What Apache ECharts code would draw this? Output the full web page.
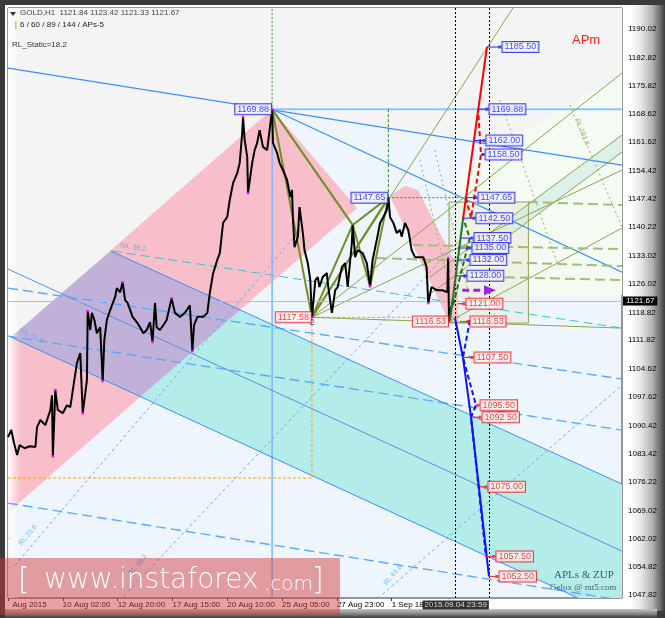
<!DOCTYPE html>
<html><head><meta charset="utf-8">
<script src="https://cdn.jsdelivr.net/npm/echarts@6/dist/echarts.min.js"></script>
<style>
html,body{margin:0;padding:0;background:#3a3a3a;}
#wrap{position:relative;width:665px;height:618px;overflow:hidden;background:#3a3a3a;}
#inner{position:absolute;left:5px;top:5px;width:660px;height:606px;background:linear-gradient(to right,#ffffff 0px,#ffffff 626px,#e6e6e6 636px,#b4b4b4 647px,#6e6e6e 655px,#3a3a3a 660px);}
#bot{position:absolute;left:5px;top:609px;width:652px;height:9px;background:linear-gradient(to bottom,#c4c4c4,#8a8a8a 50%,#3a3a3a);}
#chart{position:absolute;left:0;top:0;width:665px;height:618px;}
</style></head><body><div id="wrap"><div id="inner"></div><div id="bot"></div><div id="chart"></div></div>
<script>
// ---------- axes ----------
const xTickBars = [0,66,132,198,264,330,396,462];
const xTickLabels = ['  Aug 2015','10 Aug 02:00','12 Aug 20:00','17 Aug 15:00','20 Aug 10:00','25 Aug 05:00','27 Aug 23:00','1 Sep 18:00'];
const yTickValues = [1190.02,1182.82,1175.82,1168.62,1161.62,1154.42,1147.42,1140.22,1133.02,1126.02,1118.82,1111.82,1104.62,1097.62,1090.42,1083.42,1076.22,1069.02,1062.02,1054.82,1047.82];

// ---------- price (bar index, price) ----------
const priceBars = [0,4,7,11,14,20,26,33,35,39,45,51,53,54,57,60,66,71,75,79,83,87,90,95,96,99,101,104,107,111,114,116,119,123,129,131,135,138,141,144,150,155,159,163,167,171,174,177,179,183,188,191,197,201,207,213,219,222,224,228,235,240,243,247,252,255,259,264,267,271,276,279,282,283,285,288,289,294,297,300,303,307,312,315,318,319,324,327,331,336,340,342,343,345,349,351,355,357,361,364,365,366,370,373,375,379,384,385,390,394,397,402,406,409,414,415,418,421,427,432,436,439,444,448,452,456,458,460,464,468,472,474,478,482,486,490,496,500,504,506,510,516,523,529,530,531,533,536,539];
const priceValues = [1087.5,1089.3,1086.2,1083.0,1085.5,1084.7,1085.2,1085.0,1090.0,1091.8,1090.5,1094.3,1098.0,1082.7,1099.3,1094.3,1093.5,1095.5,1095.0,1100.6,1106.1,1108.6,1093.5,1101.8,1119.2,1114.4,1118.7,1116.9,1113.6,1115.1,1101.6,1111.9,1116.9,1119.4,1122.7,1124.9,1123.9,1126.4,1121.9,1121.2,1117.7,1116.4,1115.1,1113.6,1114.4,1116.4,1111.4,1121.2,1115.1,1114.4,1115.9,1116.9,1122.4,1118.7,1117.7,1118.7,1120.6,1109.1,1115.6,1117.7,1117.7,1118.7,1123.7,1128.7,1132.0,1133.7,1141.3,1142.8,1147.1,1151.3,1153.8,1156.4,1163.9,1167.9,1162.1,1157.9,1148.8,1156.4,1159.6,1161.4,1164.6,1160.4,1159.6,1164.6,1169.88,1161.4,1158.9,1156.4,1154.6,1152.1,1147.8,1149.6,1142.8,1135.2,1137.8,1145.3,1138.8,1134.5,1131.2,1126.9,1121.9,1117.58,1126.9,1127.7,1125.2,1127.7,1128.7,1126.2,1118.7,1124.4,1125.2,1130.2,1131.2,1125.2,1136.2,1140.8,1132.7,1134.5,1133.7,1131.2,1125.4,1132.0,1137.0,1141.3,1142.8,1144.5,1147.65,1142.8,1141.3,1138.8,1139.5,1137.8,1141.3,1139.5,1134.5,1132.7,1132.7,1132.7,1130.2,1121.2,1125.2,1124.4,1124.4,1123.9,1132.5,1116.53,1119.4,1121.9,1121.67];
const lastPrice = 1121.67;
const fractalPoints = [[54,1082.7],[57,1099.3],[90,1093.5],[96,1119.2],[114,1101.6],[138,1126.4],[174,1111.4],[197,1122.4],[222,1109.1],[283,1167.9],[289,1148.8],[318,1169.88],[366,1117.58],[436,1125.4],[506,1121.2],[530,1132.5],[531,1116.53]];

// pattern pivots X, A, B, C, D
const patX = [318,1169.88], patA = [366,1117.58], patB = [415,1140.8], patC = [436,1125.4], patD = [458,1147.65];

// ---------- zones ----------
const zoneGray = [[0,1196],[740,1196],[740,1178.96],[592.4,1160.62],[318,1169.88],[0,1111.87]];
const zoneGreen = [[592.4,1160.62],[740,1178.96],[740,1123.17],[544.2,1123.17],[544.2,1154.59]];
const zonePink = [[0,1111.87],[318,1169.88],[420.2,1145.04],[0,1068.6]];
const zoneTeal = [[124,1134.23],[740,1075.5],[740,1041.9],[3.6,1112.62]];
const zonePurple = [[124,1134.23],[280.2,1119.58],[159.3,1097.62],[3.6,1112.62]];
const zoneSmallPink = [[459.9,1148.05],[478,1150.57],[493.6,1149.56],[541.8,1129.96],[541.8,1116.39],[531,1116.39]];
const zoneGreenBand = [[568.3,1137.0],[739.3,1163.38],[739.3,1159.11],[568.3,1132.72]];
const zoneBox = [[531,1146.55],[626.6,1146.55],[626.6,1116.15],[531,1116.15],[531,1146.55]];
const zoneLeftFade = [[0,1196],[14.4,1196],[14.4,1046],[0,1046]];

// ---------- channel / trend lines ----------
const blueLong = [[0,1180.22],[739.3,1155.84]];
const bluePeakSteep = [[318,1169.88],[739.3,1128.95]];
const blueH1169 = [[318,1169.88],[739.3,1169.88]];
const blueV318 = [[318,1169.88],[318,1047.07]];
const tealUpper = [[124,1134.23],[739.3,1075.68]];
const tealMid = [[0,1129.71],[739.3,1058.84]];
const tealLower = [[3.6,1112.62],[739.3,1041.99]];
const dashL1 = [[0,1124.93],[739.3,1102.07]];
const dashL2 = [[0,1112.87],[739.3,1089.25]];
const dashL3 = [[0,1070.9],[739.3,1046.5]];
const dashISL38 = [[126.4,1134.23],[739.3,1114.88]];
const rl236 = [[8.4,1055.3],[351.6,1139.5]];
const rl382 = [[134.8,1046.5],[544.2,1137.0]];
const rl618 = [[445.5,1047.0],[739.3,1100.56]];
const orangeLevel = [[0,1077.2],[366,1077.2],[366,1117.58],[544.2,1117.58]];
const greenVX = [[318,1196],[318,1169.88]];
const greenVD = [[458,1169.88],[458,1147.65]];
const greenHD = [[458,1147.65],[544.2,1147.65]];
const fanF1 = [patA,[608,1195.3]];
const fanG1 = [patA,[739.3,1178.96]];
const fanG4 = [patA,[739.3,1154.59]];
const fanFlat = [patA,[739.3,1114.88]];
const chanG2 = [[508.1,1127.7],[739.3,1163.38]];
const chanG3 = [[508.1,1123.43],[739.3,1159.11]];
const chanG5 = [[531,1116.53],[739.3,1140.01]];
const levelH1 = [[487.6,1135.74],[739.3,1134.73]];
const levelH2 = [[444.3,1132.47],[739.3,1130.46]];
const levelH3 = [[544.2,1127.95],[739.3,1126.94]];
const levelH4 = [[626.1,1146.55],[739.3,1145.79]];
const dotD1 = [[676.6,1170.92],[739.3,1140.26]];
const dotD2 = [[592.4,1172.18],[661,1131.47]];
const dotD3 = [[496,1157.1],[532.2,1124.43]];
const dotD4 = [[514,1159.6],[556.2,1121.92]];

// ---------- projections ----------
const projGreenSolid = [[532.2,1116.9],[548,1142.5]];
const projGreenDash = [[536,1120.7],[556,1137.5],[548,1142.5]];
const projRedSolid = [[548,1142.5],[576.7,1185.5]];
const projRedDash = [[551.4,1147.65],[557.5,1142.5],[569.5,1158.5],[566,1169.88]];
const projBlueSolid = [[538.2,1117.4],[547.8,1107.5],[557.5,1092.5],[579.1,1052.5]];
const projBlueDash = [[556.2,1116.9],[547.8,1107.5],[563.5,1095.5],[557.5,1092.5],[575.5,1057.5]];
const arrowLine = [[547,1124.4],[584,1124.4]];
// targets: [price, bar on projection, bar of label]
const upTargets = [[1185.50,576.7,592.4],[1169.88,565.9,576.7],[1162.00,561,573],[1158.50,569.5,572],[1147.65,551.4,563.5],[1142.50,547.8,561],[1137.50,545.4,558.7],[1135.00,543,556.2],[1132.00,541.8,553.8],[1128.00,539.4,550.2]];
const downTargets = [[1121.00,541.8,549],[1116.53,544.2,553.8],[1107.50,547.8,558.7],[1095.50,562.3,566],[1092.50,557.5,568.3],[1075.00,568.3,575.5],[1057.50,575.5,585.1],[1052.50,579.1,588.8]];
const pivotLabelsBlue = [patX, patD];
const pivotLabelsRed = [patA, [531,1116.53]];
const nowBar = 538, endBar = 579;
const endTimeText = '2015.09.04 23:59';
// fib captions: [bar, price, text]
const fibCaptions = [[128.8,1135.74,'ISL 38.2'],[8.4,1114.4,'ISL 61.8'],[8.4,1060.5,'RL 23.6'],[140.8,1053.0,'RL 38.2'],[448,1050.5,'RL 61.8']];
const fibCaptionsOlive = [[679,1167.5,'RL 161.8']];

// ---------- build ----------
const F = 'Liberation Sans';
function shapes(items, z) {
  return {
    type:'custom', z:z, clip:true, silent:true, animation:false,
    data: items.map((_, i) => [i, 1100]),
    renderItem: (params, api) => {
      const it = items[params.dataIndex];
      const pts = it.pts.map(p => api.coord(p));
      if (it.fill) return {type:'polygon', shape:{points:pts}, style:{fill:it.fill, stroke:it.stroke || null, lineWidth:it.lw || 0}};
      const line = {type:'polyline', shape:{points:pts}, style:{fill:null, stroke:it.stroke, lineWidth:it.lw || 1, lineDash:it.dash || null}};
      if (!it.arrow) return line;
      const e = pts[pts.length - 1], s = pts[pts.length - 2];
      const a = Math.atan2(e[1] - s[1], e[0] - s[0]), L = 9, W = 5;
      const head = [[e[0] + Math.cos(a) * 3, e[1] + Math.sin(a) * 3],
        [e[0] - Math.cos(a) * L - Math.sin(a) * W, e[1] - Math.sin(a) * L + Math.cos(a) * W],
        [e[0] - Math.cos(a) * L + Math.sin(a) * W, e[1] - Math.sin(a) * L - Math.cos(a) * W]];
      return {type:'group', children:[line, {type:'polygon', shape:{points:head}, style:{fill:it.stroke}}]};
    }
  };
}
const OL = '#8aa64a';
const zoneItems = [
  {pts:zoneGray, fill:'#f4f4f4'},
  {pts:zoneGreen, fill:'#f3fbf2'},
  {pts:zonePink, fill:'#f8bfcb'},
  {pts:zoneTeal, fill:'#b3ece8'},
  {pts:zonePurple, fill:'#c1b1d8'},
  {pts:zoneGreenBand, fill:'#dcf1ea'},
  {pts:zoneBox, fill:'rgba(225,225,205,0.35)', stroke:'#8fa456', lw:1},
  {pts:zoneSmallPink, fill:'#f8bfcb'},
  {pts:zoneLeftFade, fill:new echarts.graphic.LinearGradient(0,0,1,0,[{offset:0,color:'rgba(255,255,255,0.95)'},{offset:1,color:'rgba(255,255,255,0)'}])}
];
const lineItems = [
  {pts:dashL1, stroke:'#5aaaf8', lw:1.4, dash:[10,5]},
  {pts:dashL2, stroke:'#5aaaf8', lw:1.4, dash:[10,5]},
  {pts:dashL3, stroke:'#5aaaf8', lw:1.4, dash:[10,5]},
  {pts:dashISL38, stroke:'#3cc4d4', lw:1, dash:[9,5]},
  {pts:rl236, stroke:'#66aaf0', lw:1, dash:[3,3]},
  {pts:rl382, stroke:'#66aaf0', lw:1, dash:[3,3]},
  {pts:rl618, stroke:'#66aaf0', lw:1, dash:[3,3]},
  {pts:blueLong, stroke:'#3d8ff5', lw:1.2},
  {pts:bluePeakSteep, stroke:'#3d8ff5', lw:1.2},
  {pts:blueH1169, stroke:'#8cc4ff', lw:2},
  {pts:blueV318, stroke:'#7ab6ff', lw:1.5},
  {pts:tealUpper, stroke:'#3d8ff5', lw:1},
  {pts:tealMid, stroke:'#5b8ee6', lw:1},
  {pts:tealLower, stroke:'#3d8ff5', lw:1},
  {pts:orangeLevel, stroke:'#ffa500', lw:1, dash:[3,2]},
  {pts:greenVX, stroke:'#3a9a3a', lw:1, dash:[2,2]},
  {pts:greenVD, stroke:'#2e8b2e', lw:1, dash:[3,2]},
  {pts:greenHD, stroke:'#2e8b2e', lw:1, dash:[2,2]},
  {pts:fanF1, stroke:OL, lw:1},
  {pts:fanG1, stroke:OL, lw:1},
  {pts:fanG4, stroke:OL, lw:1},
  {pts:fanFlat, stroke:OL, lw:1},
  {pts:chanG2, stroke:OL, lw:1},
  {pts:chanG3, stroke:OL, lw:1},
  {pts:chanG5, stroke:OL, lw:1},
  {pts:levelH1, stroke:'#a9b97c', lw:2, dash:[10,5]},
  {pts:levelH2, stroke:'#a9b97c', lw:2, dash:[10,5]},
  {pts:levelH3, stroke:'#a9b97c', lw:2, dash:[10,5]},
  {pts:levelH4, stroke:'#a9b97c', lw:2, dash:[10,5]},
  {pts:dotD1, stroke:'#9ab060', lw:1, dash:[2,3]},
  {pts:dotD2, stroke:'#9ab060', lw:1, dash:[2,3]},
  {pts:dotD3, stroke:'#9ab060', lw:1, dash:[2,3]},
  {pts:dotD4, stroke:'#9ab060', lw:1, dash:[2,3]}
];
const zigItems = [[patX,patA],[patX,patB],[patA,patB],[patB,patC],[patC,patD],[patB,patD],[patA,patD]].map(s => ({pts:s, stroke:'#6f8f22', lw:2}));
const projItems = [
  {pts:projGreenSolid, stroke:'#1f7a1f', lw:2},
  {pts:projGreenDash, stroke:'#1f7a1f', lw:2, dash:[5,3]},
  {pts:projRedSolid, stroke:'#ff0000', lw:2},
  {pts:projRedDash, stroke:'#ff0000', lw:2, dash:[5,3]},
  {pts:projBlueSolid, stroke:'#1010ff', lw:2},
  {pts:projBlueDash, stroke:'#1010ff', lw:2, dash:[5,3]},
  {pts:arrowLine, stroke:'#a020f0', lw:3, dash:[7,4], arrow:true}
];
upTargets.forEach(t => projItems.push({pts:[[t[1],t[0]],[t[2],t[0]]], stroke:'#2020ff', lw:1}));
downTargets.forEach(t => projItems.push({pts:[[t[1],t[0]],[t[2],t[0]]], stroke:'#ff2020', lw:1}));

function boxLabel(col, bg, pos) {
  return {show:true, position:pos, distance:1, color:col, borderColor:col, borderWidth:1, backgroundColor:bg,
    padding:[1,2,0,2], fontSize:9, fontFamily:F, formatter: p => p.value[1].toFixed(2)};
}
const labelData = [];
upTargets.forEach(t => labelData.push({value:[t[2],t[0]], itemStyle:{color:'#2020ff'}, label:boxLabel('#1818ee','#f4f4ff','right')}));
downTargets.forEach(t => labelData.push({value:[t[2],t[0]], itemStyle:{color:'#ff2020'}, label:boxLabel('#ee1818','#fff2f2','right')}));
pivotLabelsBlue.forEach(p => labelData.push({value:p, symbolSize:0, label:boxLabel('#1818ee','#f4f4ff','left')}));
pivotLabelsRed.forEach(p => labelData.push({value:p, symbolSize:0, label:boxLabel('#ee1818','#fff2f2','left')}));

const option = {
  animation:false,
  backgroundColor:'transparent',
  grid:{left:8, right:43, top:8, bottom:20, show:true, backgroundColor:'#eef5fc', borderColor:'#333', borderWidth:1, outerBoundsMode:'none'},
  xAxis:{type:'value', min:0, max:739.3, axisLine:{show:false}, splitLine:{show:false},
    axisTick:{show:true, customValues:xTickBars, length:3, lineStyle:{color:'#333'}},
    axisLabel:{customValues:xTickBars, formatter:v => { const i = xTickBars.indexOf(v); return i >= 0 ? xTickLabels[i] : ''; },
      align:'left', color:'#000', fontSize:8, fontFamily:F, margin:3}},
  yAxis:{type:'value', position:'right', min:1047.07, max:1195.3, axisLine:{show:false}, splitLine:{show:false},
    axisTick:{show:true, customValues:yTickValues, length:3, lineStyle:{color:'#333'}},
    axisLabel:{customValues:yTickValues, formatter:v => v.toFixed(2), color:'#000', fontSize:8, fontFamily:F, margin:6}},
  series:[
    shapes(zoneItems, 1),
    shapes(lineItems, 3),
    shapes(zigItems, 4),
    {type:'scatter', z:4, silent:true, symbolSize:0, clip:true,
      data:fibCaptions.map(c => ({value:[c[0],c[1]], label:{show:true, position:'right', formatter:c[2], color:'#55aae8', fontSize:7, fontFamily:F,
        rotate: c[2].startsWith('RL') ? 50 : (c[2]==='ISL 38.2' ? -9 : -25)}}))
        .concat(fibCaptionsOlive.map(c => ({value:[c[0],c[1]], label:{show:true, position:'right', formatter:c[2], color:'#8fa456', fontSize:7, fontFamily:F, rotate:-68}})))},
    {type:'line', z:5, silent:true, showSymbol:false, data:priceBars.map((b,i) => [b, priceValues[i]]),
      lineStyle:{color:'#000', width:2},
      markLine:{silent:true, symbol:'none', animation:false, data:[
        {yAxis:lastPrice, lineStyle:{color:'#bdbdbd', type:'solid', width:1},
          label:{show:true, position:'end', distance:1, formatter:lastPrice.toFixed(2), color:'#fff', backgroundColor:'#000', padding:[1,3,0,3], fontSize:8, fontFamily:F}},
        {xAxis:nowBar, lineStyle:{color:'#000', type:[2,2], width:1}, label:{show:false}},
        {xAxis:endBar, lineStyle:{color:'#000', type:[2,2], width:1}, label:{show:false}}
      ]}},
    {type:'scatter', z:6, silent:true, symbolSize:3, itemStyle:{color:'#ff00ff'}, data:fractalPoints},
    {type:'scatter', z:6, silent:true, symbolSize:0, data:[{value:patA, label:{show:true, position:'bottom', distance:1, formatter:'2', color:'#333', fontSize:9, fontFamily:F}}]},
    shapes(projItems, 7),
    {type:'scatter', z:8, silent:true, symbol:'rect', symbolSize:3, clip:false, data:labelData},
    {type:'scatter', z:9, silent:true, symbolSize:0, clip:false,
      data:[{value:[endBar, 1047.07], label:{show:true, position:'left', distance:0, offset:[0,7], formatter:endTimeText, color:'#fff', backgroundColor:'#000', padding:[1,2,0,2], fontSize:8, fontFamily:F}}]}
  ],
  graphic:[
    {type:'polygon', z:100, shape:{points:[[10,12],[16,12],[13,16]]}, style:{fill:'#333'}},
    {type:'text', z:100, left:20, top:9, style:{text:'GOLD,H1  1121.84 1123.42 1121.33 1121.67', fill:'#444', font:'8px Liberation Sans'}},
    {type:'rect', z:100, shape:{x:15, y:21, width:1.5, height:8}, style:{fill:'#e0c040'}},
    {type:'text', z:100, left:20, top:21, style:{text:'6 / 60 / 89 / 144 / APs-5', fill:'#222', font:'8px Liberation Sans'}},
    {type:'text', z:100, left:12, top:41, style:{text:'RL_Static=18.2', fill:'#333', font:'8px Liberation Sans'}},
    {type:'text', z:100, left:572, top:34, style:{text:'APm', fill:'#ff2020', font:'13px Liberation Sans'}},
    {type:'text', z:100, left:554, top:570, style:{text:'APLs & ZUP', fill:'#4a5a5a', font:'11px Liberation Serif'}},
    {type:'text', z:100, left:550, top:583, style:{text:'Gelox @ mt5.com', fill:'#556060', font:'9px Liberation Serif'}},
    {type:'rect', z:100, shape:{x:0, y:558, width:340, height:57}, style:{fill:'rgba(210,55,60,0.47)'}},
    {type:'text', z:101, left:18, top:566, style:{text:'[', fill:'#fff', font:'300 30px DejaVu Sans'}},
    {type:'text', z:101, left:44, top:567, style:{text:'www.instaforex', fill:'#fff', font:'300 28px DejaVu Sans'}},
    {type:'text', z:101, left:264, top:575, style:{text:'.com', fill:'#fff', font:'300 20px DejaVu Sans'}},
    {type:'text', z:101, left:312, top:566, style:{text:']', fill:'#fff', font:'300 30px DejaVu Sans'}}
  ]
};
const chart = echarts.init(document.getElementById('chart'), null, {renderer:'canvas'});
chart.setOption(option);
</script></body></html>
